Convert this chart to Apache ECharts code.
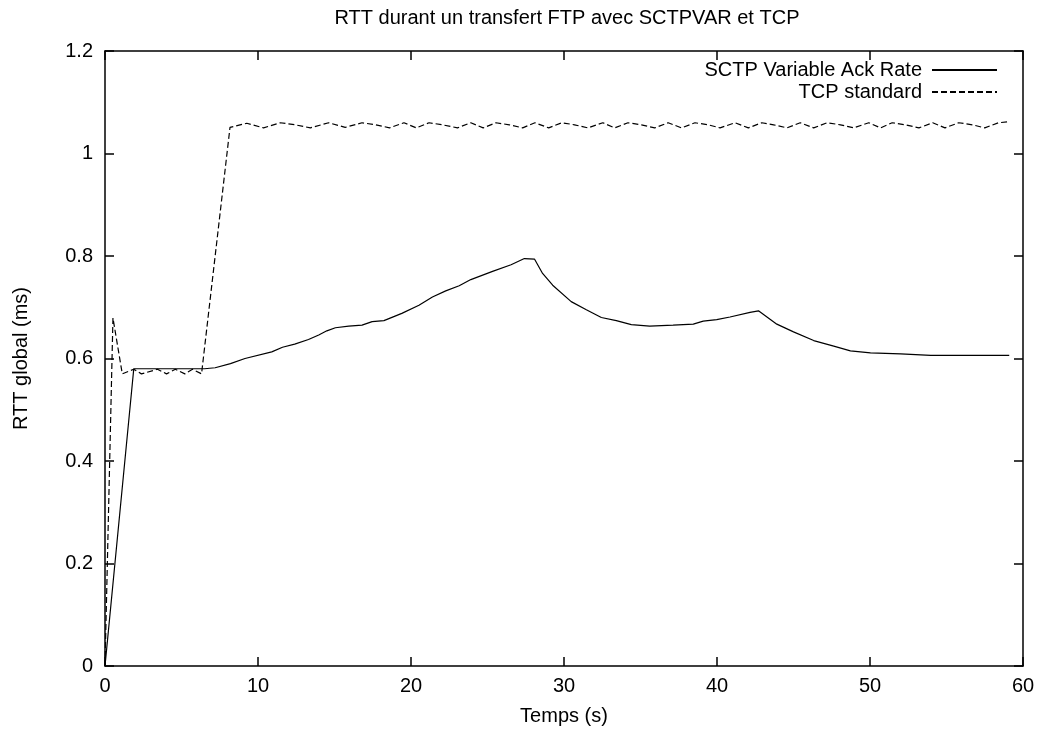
<!DOCTYPE html>
<html>
<head>
<meta charset="utf-8">
<title>RTT SCTPVAR / TCP</title>
<script src="https://cdn.jsdelivr.net/npm/echarts@6/dist/echarts.min.js"></script>
<style>
  html, body { margin: 0; padding: 0; background: #fff; }
  #chart { width: 1044px; height: 731px; }
</style>
</head>
<body>
<div id="chart"></div>
<script>
// valeurs (temps en s, RTT en ms)
var sctpTime = [0, 1.88, 6.5, 7.2, 8.2, 9.15, 10.9, 11.6, 12.4, 13.3, 13.97, 14.5, 15.06, 15.93,
  16.8, 17.46, 18.23, 19.4, 20.52, 21.4, 22.27, 23.15, 23.91, 25.33, 26.54, 27.41, 28.07, 28.6,
  29.26, 30.47, 31.46, 32.44, 33.42, 34.4, 35.6, 37.13, 38.45, 39.1, 39.98, 40.85, 42.16, 42.71,
  43.91, 45.0, 46.32, 47.63, 48.72, 50.03, 52, 53.97, 59.1]
var sctpRtt = [0, 0.58, 0.58, 0.582, 0.59, 0.6, 0.613, 0.622, 0.628, 0.637, 0.646, 0.654, 0.66, 0.663,
  0.665, 0.672, 0.674, 0.688, 0.704, 0.72, 0.732, 0.742, 0.754, 0.77, 0.783, 0.795, 0.794, 0.766,
  0.743, 0.711, 0.695, 0.68, 0.674, 0.666, 0.663, 0.665, 0.667, 0.673, 0.676, 0.681, 0.69, 0.693,
  0.667, 0.652, 0.635, 0.624, 0.615, 0.611, 0.609, 0.606, 0.606]

var tcpTime = [0, 0.52, 1.13, 1.88, 2.38, 3.43, 4.02, 4.6, 5.22, 5.72, 6.31, 8.17, 9.27, 10.36,
  11.45, 12.43, 13.42, 14.62, 15.7, 16.8, 17.7, 18.6, 19.54, 20.35, 21.18, 22.05, 23.04, 23.91,
  24.72, 25.55, 26.43, 27.3, 28.1, 29.0, 29.85, 30.69, 31.56, 32.54, 33.31, 34.18, 35.06, 35.93,
  36.81, 37.68, 38.56, 39.43, 40.2, 41.18, 42.05, 42.93, 43.7, 44.57, 45.44, 46.32, 47.19, 48.07,
  48.94, 49.92, 50.69, 51.45, 52.3, 53.2, 54.1, 54.9, 55.8, 56.7, 57.5, 58.4, 59.1]
var tcpRtt = [0, 0.679, 0.57, 0.579, 0.57, 0.579, 0.57, 0.579, 0.57, 0.579, 0.57, 1.051, 1.059, 1.05,
  1.06, 1.056, 1.05, 1.06, 1.051, 1.06, 1.056, 1.05, 1.06, 1.05, 1.06, 1.056, 1.05, 1.06,
  1.05, 1.06, 1.056, 1.05, 1.06, 1.05, 1.06, 1.056, 1.05, 1.06, 1.05, 1.06, 1.056, 1.05,
  1.06, 1.05, 1.06, 1.056, 1.05, 1.06, 1.05, 1.06, 1.056, 1.05, 1.06, 1.05, 1.06, 1.056,
  1.05, 1.06, 1.05, 1.06, 1.056, 1.05, 1.06, 1.05, 1.06, 1.056, 1.05, 1.06, 1.062]

var seriesNames = ['SCTP Variable Ack Rate', 'TCP standard']
var chartTitle = 'RTT durant un transfert FTP avec SCTPVAR et TCP'
var xName = 'Temps (s)'
var yName = 'RTT global (ms)'

var FONT = 'Liberation Sans, Arial, Helvetica, sans-serif'

function pairs(xs, ys) {
  return xs.map(function(x, i) {
    return [x, ys[i]]
  })
}

// axes en cadre facon gnuplot : graduations interieures sur les quatre cotes
function makeAxis(isX, mirror) {
  var axis = {
    type: 'value',
    position: isX ? (mirror ? 'top' : 'bottom') : (mirror ? 'right' : 'left'),
    min: 0,
    max: isX ? 60 : 1.2,
    interval: isX ? 10 : 0.2,
    axisLine: { show: true, onZero: false, lineStyle: { color: '#000', width: 1.5 } },
    axisTick: { show: true, inside: true, length: 9, lineStyle: { color: '#000', width: 1.5 } },
    splitLine: { show: false },
    axisLabel: {
      show: !mirror,
      color: '#000',
      fontFamily: FONT,
      fontSize: 20,
      margin: isX ? 10 : 12
    }
  }
  if (!mirror) {
    axis.name = isX ? xName : yName
    axis.nameLocation = 'middle'
    axis.nameGap = isX ? 40 : 74
    axis.nameTextStyle = { color: '#000', fontFamily: FONT, fontSize: 20 }
  }
  return axis
}

var chart = echarts.init(document.getElementById('chart'), null, { renderer: 'canvas' })

chart.setOption({
  animation: false,
  backgroundColor: '#fff',
  title: {
    text: chartTitle,
    left: 567,
    textAlign: 'center',
    top: 8,
    padding: 0,
    textStyle: { color: '#000', fontFamily: FONT, fontSize: 20, fontWeight: 'normal' }
  },
  legend: {
    orient: 'vertical',
    align: 'right',
    right: 46,
    top: 60,
    itemWidth: 65,
    itemHeight: 14,
    itemGap: 2,
    padding: 0,
    data: seriesNames,
    itemStyle: { opacity: 0 },
    textStyle: { color: '#000', fontFamily: FONT, fontSize: 20, lineHeight: 20, padding: [0, 5, 0, 0] }
  },
  grid: { left: 105, right: 21, top: 51, bottom: 64 },
  xAxis: [makeAxis(true, false), makeAxis(true, true)],
  yAxis: [makeAxis(false, false), makeAxis(false, true)],
  series: [
    {
      name: seriesNames[0],
      type: 'line',
      data: pairs(sctpTime, sctpRtt),
      symbol: 'none',
      lineStyle: { color: '#000', width: 1.2, type: 'solid' },
      itemStyle: { color: '#000' }
    },
    {
      name: seriesNames[1],
      type: 'line',
      data: pairs(tcpTime, tcpRtt),
      symbol: 'none',
      lineStyle: { color: '#000', width: 1.2, type: [6, 3] },
      itemStyle: { color: '#000' }
    }
  ]
})
</script>
</body>
</html>
